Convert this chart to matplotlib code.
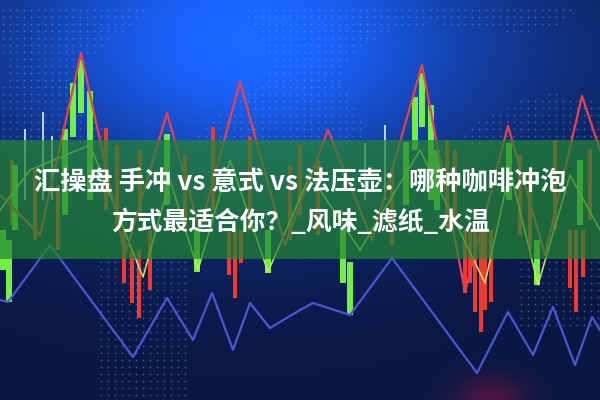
import numpy as np
import matplotlib
matplotlib.use("Agg")
import matplotlib.pyplot as plt

# ---------------- data ----------------
title_line1 = "汇操盘 手冲 vs 意式 vs 法压壶：哪种咖啡冲泡"
title_line2 = "方式最适合你？_风味_滤纸_水温"

# candles: x position, high, low
green_x = [65, 73, 81, 90, 167, 406, 415, 422, 431, 509, 15, 437, 580,
           3, 9, 197, 268, 343, 350, 537]
green_hi = [271, 317, 340, 309, 266, 258, 303, 327, 295, 257, 235, 250, 240,
            170, 160, 170, 170, 170, 138, 160]
green_lo = [185, 263, 287, 200, 195, 195, 250, 273, 200, 200, 170, 190, 175,
            130, 98, 128, 127, 117, 85, 115]

red_x = [106, 213, 117, 250, 447, 555,
         12, 35, 58, 140, 185, 290, 300, 318, 392, 455, 520, 530, 590,
         124, 132, 139, 150, 229, 235, 241, 465, 470, 475, 481, 485, 491, 570, 576, 583]
red_hi = [272, 273, 255, 263, 260, 260,
          240, 230, 215, 250, 245, 235, 255, 240, 230, 250, 245, 225, 250,
          170, 150, 150, 170, 170, 170, 170, 170, 170, 170, 170, 170, 170, 170, 170, 170]
red_lo = [190, 190, 170, 170, 170, 170,
          175, 160, 150, 180, 170, 160, 185, 165, 155, 175, 165, 150, 180,
          117, 97, 82, 110, 125, 102, 137, 107, 117, 88, 68, 90, 98, 112, 88, 123]

pale_x = [25, 43, 52, 365, 385]
pale_hi = [271, 288, 264, 257, 275]
pale_lo = [200, 200, 200, 200, 200]

# lines
redline_x = [0, 40, 81, 125, 167, 200, 240, 285, 328, 372, 422, 465, 508, 545, 582, 600]
redline_y = [205, 165, 347, 145, 287, 170, 318, 155, 270, 160, 335, 108, 274, 145, 304, 250]

limeline_x = [0, 30, 90, 143, 170, 198, 230, 268, 310, 360, 420, 485, 510, 538, 570, 600]
limeline_y = [190, 230, 255, 123, 220, 130, 240, 128, 225, 150, 250, 117, 230, 115, 225, 170]

blueline_x = [0, 8, 50, 133, 167, 193, 212, 233, 250, 270, 300, 313, 350, 392, 477, 508,
              533, 553, 575, 592, 600]
blueline_y = [100, 98, 155, 43, 102, 60, 107, 50, 97, 72, 90, 97, 85, 142, 27, 88,
              45, 93, 35, 83, 70]

# ---------------- figure ----------------
fig = plt.figure(figsize=(6, 4), dpi=100)
ax = fig.add_axes([0, 0, 1, 1])
ax.set_xlim(0, 600)
ax.set_ylim(0, 400)
ax.axis("off")

# background gradient
H, W = 400, 600
yy, xx = np.mgrid[0:H, 0:W].astype(float)
navy = np.array([0.04, 0.09, 0.26])
bright = np.array([0.10, 0.36, 0.92])
glow = np.exp(-((xx - 250) / 230) ** 2) * np.exp(-((yy - 30) / 170) ** 2)
left = np.exp(-((yy - 60) / 120) ** 2) * 0.35
bg = navy[None, None, :] + (glow[..., None] * 1.0 + left[..., None] * 0.6) * (bright - navy)[None, None, :]
redglow = np.exp(-(((xx - 490) / 35) ** 2 + ((yy - 398) / 22) ** 2)) * 0.25
bg[..., 0] += redglow
bg = np.clip(bg, 0, 1)
ax.imshow(bg, extent=[0, 600, 0, 400], origin="upper", aspect="auto", zorder=0)

# dot matrix pattern
gx, gy = np.meshgrid(np.arange(3, 600, 7), np.arange(10, 400, 7))
gx = gx.ravel(); gy = gy.ravel()
m1 = (gy < 145) & (np.sin(gx / 37.0) + np.cos(gy / 23.0) + np.sin((gx + gy) / 51.0) > 0.2)
m2 = (gy > 255) & (gx > 100) & (gx < 190)
m3 = (gy > 255) & (gy < 330) & (gx > 520)
m = m1 | m2 | m3
ax.scatter(gx[m], 400 - gy[m], s=1.8, color="#7fb0ff", alpha=0.4, linewidths=0, zorder=1)

# candles
ax.bar(pale_x, np.subtract(pale_hi, pale_lo), bottom=pale_lo, width=2,
       color="#b9d2f2", zorder=2)
ax.bar(red_x, np.subtract(red_hi, red_lo), bottom=red_lo, width=4,
       color="#f03a30", zorder=2)
ax.bar(green_x, np.subtract(green_hi, green_lo), bottom=green_lo, width=6.5,
       color="#72f048", zorder=3)

# lines
ax.plot(blueline_x, blueline_y, color="#4a56d2", lw=1.6, zorder=4)
ax.plot(limeline_x, limeline_y, color="#cfe85a", lw=1.1, zorder=4)
ax.plot(redline_x, redline_y, color="#e8404e", lw=1.6, zorder=4)

# banner
ax.axhspan(141, 260, color=(0.14, 0.52, 0.20), alpha=0.72, lw=0, zorder=5)

fam = ["Noto Sans CJK SC", "DejaVu Sans"]
fig.text(0.5, 1 - 183 / 400, title_line1, ha="center", va="center", fontsize=18.9,
         color="white", fontweight="bold", family=fam, zorder=10)
fig.text(0.5, 1 - 222 / 400, title_line2, ha="center", va="center", fontsize=18.5,
         color="white", fontweight="bold", family=fam, zorder=10)

fig.savefig("out.png", dpi=100)
